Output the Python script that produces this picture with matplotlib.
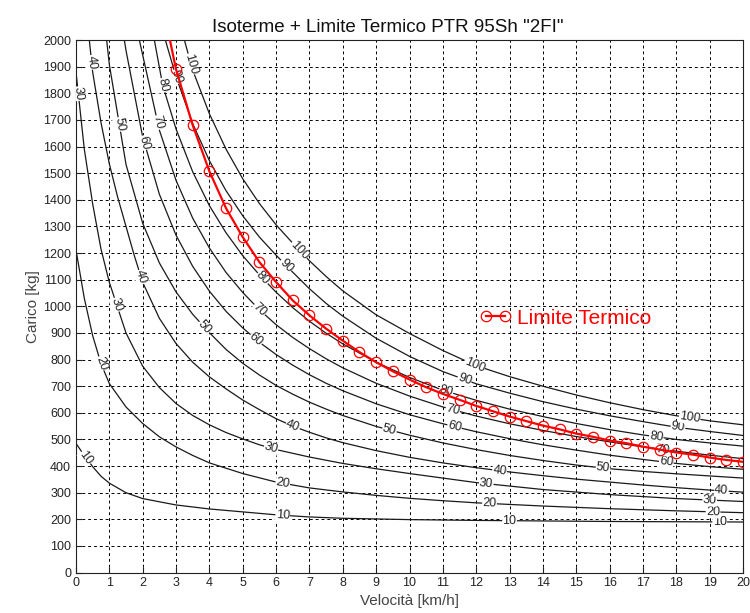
import numpy as np
import matplotlib
matplotlib.use("Agg")
import matplotlib.pyplot as plt

plt.rcParams['font.family'] = ['Liberation Sans', 'DejaVu Sans']

# ---------------- data ----------------
temps = [10, 20, 30, 40, 50, 60, 70, 80, 90, 100]

v10 = [0, 0.25, 0.5, 0.75, 1, 1.5, 2, 3, 4, 5, 6, 7, 8, 10, 12, 14, 16, 18, 20]
p10 = [485, 440, 398, 362, 336, 300, 278, 254, 239, 228, 217, 209, 204, 199, 196, 194, 192, 191, 190]

v20 = [0, 0.25, 0.5, 0.75, 1, 1.5, 2, 2.5, 3, 3.5, 4, 5, 6, 7, 8, 9, 10, 11, 12, 14, 16, 18, 20]
p20 = [1212, 1030, 890, 785, 710, 622, 560, 510, 472, 440, 412, 372, 340, 318, 303, 290, 279, 270, 262, 250, 240, 232, 225]

v30 = [0, 0.25, 0.5, 0.75, 1, 1.5, 2, 2.5, 3, 3.5, 4, 4.5, 5, 5.5, 6, 7, 8, 9, 10, 12, 14, 16, 18, 20]
p30 = [1880, 1590, 1385, 1215, 1090, 900, 775, 695, 635, 590, 555, 526, 502, 480, 462, 434, 410, 390, 372, 338, 312, 293, 278, 267]

v40 = [0.4, 0.5, 0.75, 1, 1.25, 1.5, 1.75, 2, 2.5, 3, 3.5, 4, 4.5, 5, 5.5, 6, 6.5, 7, 7.5, 8, 9, 10, 11, 12, 13, 14, 15, 16, 17, 18, 19, 20]
p40 = [2000, 1880, 1690, 1535, 1410, 1300, 1190, 1090, 955, 860, 790, 735, 690, 648, 612, 578, 550, 527, 506, 488, 458, 433, 412, 394, 378, 364, 351, 340, 329, 319, 310, 302]

v50 = [0.92, 1, 1.5, 2, 2.5, 3, 3.5, 4, 4.5, 5, 5.5, 6, 6.5, 7, 7.5, 8, 9, 10, 11, 12, 13, 14, 15, 16, 17, 18, 19, 20]
p50 = [2000, 1908, 1533, 1312, 1163, 1054, 970, 901, 838, 786, 742, 703, 670, 640, 614, 590, 549, 516, 487, 462, 440, 421, 404, 390, 380, 371, 363, 355]

v60 = [1.45, 1.5, 2, 2.5, 3, 3.5, 4, 4.5, 5, 5.5, 6, 6.5, 7, 7.5, 8, 9, 10, 11, 12, 13, 14, 15, 16, 17, 18, 19, 20]
p60 = [2000, 1961, 1636, 1421, 1267, 1150, 1057, 981, 919, 865, 819, 779, 743, 711, 683, 634, 593, 559, 529, 503, 480, 460, 441, 425, 410, 398, 388]

v70 = [1.9, 2.5, 3, 3.5, 4, 4.5, 5, 5.5, 6, 6.5, 7, 7.5, 8, 9, 10, 11, 12, 13, 14, 15, 16, 17, 18, 19, 20]
p70 = [2000, 1662, 1473, 1331, 1219, 1127, 1052, 987, 931, 883, 841, 803, 769, 711, 663, 622, 588, 559, 534, 511, 491, 472, 456, 441, 428]

v80 = [2.35, 2.6, 3, 3.5, 4, 4.5, 5, 5.5, 6, 6.5, 7, 7.5, 8, 9, 10, 11, 12, 13, 14, 15, 16, 17, 18, 19, 20]
p80 = [2000, 1830, 1666, 1505, 1378, 1276, 1190, 1118, 1053, 995, 944, 899, 859, 790, 733, 685, 647, 614, 586, 560, 537, 517, 500, 487, 475]

v90 = [2.68, 3, 3.5, 4, 4.5, 5, 5.5, 6, 6.5, 7, 7.5, 8, 9, 10, 11, 12, 13, 14, 15, 16, 17, 18, 19, 20]
p90 = [2000, 1862, 1686, 1547, 1434, 1340, 1260, 1192, 1128, 1066, 1011, 963, 880, 812, 755, 709, 674, 642, 614, 589, 567, 546, 530, 515]

v100 = [3.25, 3.5, 4, 4.5, 5, 5.5, 6, 6.5, 7, 7.5, 8, 9, 10, 11, 12, 13, 14, 15, 16, 17, 18, 19, 20]
p100 = [2000, 1887, 1723, 1590, 1479, 1386, 1306, 1237, 1171, 1112, 1058, 968, 898, 834, 777, 736, 700, 667, 638, 612, 589, 570, 555]

iso_v = [v10, v20, v30, v40, v50, v60, v70, v80, v90, v100]
iso_p = [p10, p20, p30, p40, p50, p60, p70, p80, p90, p100]

# label positions (velocity along each isotherm)
label_v = {
    10: [0.3, 6.2, 13.0, 19.3],
    20: [0.75, 6.2, 12.4, 19.1],
    30: [0.07, 1.22, 5.85, 12.3, 19.0],
    40: [0.47, 1.95, 6.5, 12.7, 19.35],
    50: [1.3, 3.85, 9.4, 15.8],
    60: [2.05, 5.4, 11.35, 17.7],
    70: [2.45, 5.5, 11.3, 17.6],
    80: [2.6, 5.6, 11.1, 17.4],
    90: [3.0, 6.3, 11.65, 18.05],
    100: [3.45, 6.7, 11.95, 18.4],
}

lim_v = [2.5, 3, 3.5, 4, 4.5, 5, 5.5, 6, 6.5, 7, 7.5, 8, 8.5, 9, 9.5, 10, 10.5, 11,
         11.5, 12, 12.5, 13, 13.5, 14, 14.5, 15, 15.5, 16, 16.5, 17, 17.5, 18, 18.5,
         19, 19.5, 20]
lim_p = [2190, 1890, 1680, 1507, 1368, 1260, 1166, 1091, 1022, 966, 916, 871, 828, 790,
         756, 725, 696, 671, 649, 626, 606, 586, 569, 552, 538, 522, 510, 496, 486, 473,
         462, 451, 443, 432, 423, 416]

x_ticks = list(range(0, 21))
y_ticks = list(range(0, 2001, 100))

# ---------------- figure ----------------
fig = plt.figure(figsize=(7.5, 6.13), dpi=100)
ax = fig.add_axes([0.1013, 0.0659, 0.8894, 0.8688])
ax.set_xlim(0, 20)
ax.set_ylim(0, 2000)
ax.set_xticks(x_ticks)
ax.set_yticks(y_ticks)
ax.tick_params(direction='in', length=4, labelsize=9, colors='#222222')
ax.grid(True, color='black', linestyle=(0, (3, 3)), linewidth=0.7)
for s in ax.spines.values():
    s.set_linewidth(0.8)
    s.set_color('#222222')

for vv, pp in zip(iso_v, iso_p):
    ax.plot(vv, pp, color='#1a1a1a', linewidth=0.9, zorder=2)

fig.canvas.draw()
for T, vv, pp in zip(temps, iso_v, iso_p):
    for lv in label_v[T]:
        lp = np.interp(lv, vv, pp)
        a = ax.transData.transform((lv - 0.08, np.interp(lv - 0.08, vv, pp)))
        b = ax.transData.transform((lv + 0.08, np.interp(lv + 0.08, vv, pp)))
        ang = np.degrees(np.arctan2(b[1] - a[1], b[0] - a[0]))
        ax.text(lv, lp, str(T), fontsize=9, rotation=ang, rotation_mode='anchor',
                ha='center', va='center', color='#222222', zorder=3,
                bbox=dict(facecolor='white', edgecolor='none', pad=0.3), clip_on=True)

ax.plot(lim_v, lim_p, color='red', linewidth=1.6, marker='o', markersize=7.5,
        markerfacecolor='none', markeredgecolor='red', markeredgewidth=0.9,
        label='Limite Termico', zorder=5)

ax.legend(loc='center left', bbox_to_anchor=(0.605, 0.478), frameon=False,
          fontsize=15, labelcolor='red', handlelength=1.5, handletextpad=0.3,
          numpoints=2, borderpad=0, borderaxespad=0)

ax.set_title('Isoterme + Limite Termico PTR 95Sh "2FI"', fontsize=13.5, pad=6,
             color='#111111', x=0.468)
ax.set_xlabel('Velocità [km/h]', fontsize=11, color='#444444', labelpad=3)
ax.set_ylabel('Carico [kg]', fontsize=11, color='#444444', labelpad=2)

fig.savefig('out.png', dpi=100)
